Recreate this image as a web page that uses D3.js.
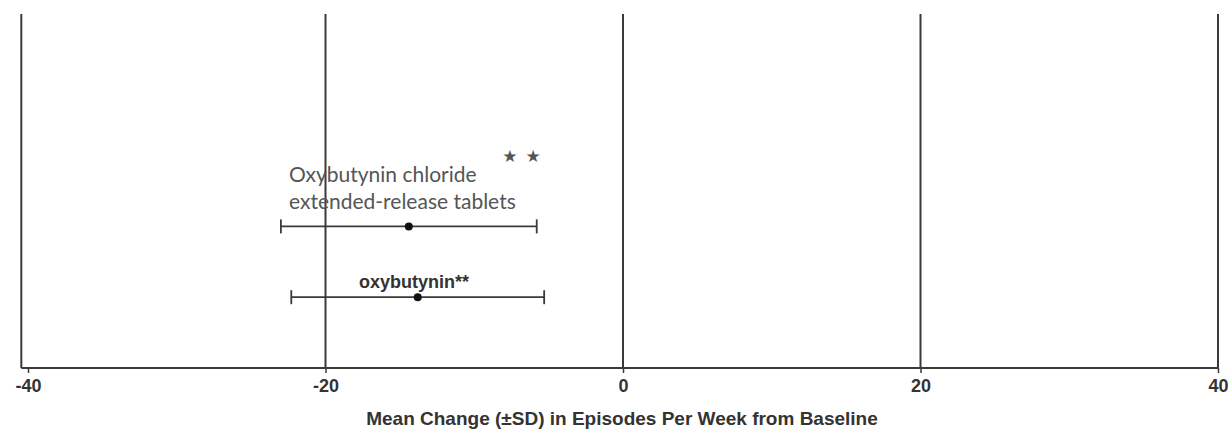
<!DOCTYPE html>
<html>
<head>
<meta charset="utf-8">
<script src="https://cdn.jsdelivr.net/npm/d3@7"></script>
<style>
  html, body { margin: 0; padding: 0; background: #fff; }
  svg { display: block; }
</style>
</head>
<body>
<div id="plot"></div>
<script>
// Mean change (±SD) in weekly episodes, two treatment arms

const treatments = ["ER", "IR"];
const meanChange = [-14.4, -13.8];
const sdChange = [8.6, 8.5];
const rowPos = [0.4, 0.2];          // vertical position of each arm (0 = axis, 1 = top)
const xTicks = [-40, -20, 0, 20, 40];
const gridValues = [-20, 0, 20, 40];
const starX = [-7.6, -6.05];        // the two stars above the ER arm

const width = 1228, height = 430;

const svg = d3.select("#plot")
  .append("svg")
  .attr("width", width)
  .attr("height", height);

const x = d3.scaleLinear().domain([-40, 40]).range([28, 1218]);
const y = d3.scaleLinear().domain([0, 1]).range([368, 14]);

const ink = "#3a3a3a";

// vertical reference lines
svg.selectAll(".grid")
  .data(gridValues)
  .enter()
  .append("line")
  .attr("class", "grid")
  .attr("x1", d => x(d)).attr("x2", d => x(d))
  .attr("y1", y(1)).attr("y2", y(0))
  .attr("stroke", ink)
  .attr("stroke-width", 2);

// left frame line
svg.append("line")
  .attr("x1", x(-40.45)).attr("x2", x(-40.45))
  .attr("y1", y(1)).attr("y2", y(0))
  .attr("stroke", ink)
  .attr("stroke-width", 2);

// x axis
const xAxis = d3.axisBottom(x)
  .tickValues(xTicks)
  .tickSize(5)
  .tickPadding(6)
  .tickFormat(d => String(d));

const gx = svg.append("g")
  .attr("transform", `translate(0,${y(0)})`)
  .call(xAxis);

gx.select(".domain").remove();
gx.append("line")
  .attr("x1", x(-40.45)).attr("x2", x(40))
  .attr("stroke", ink)
  .attr("stroke-width", 2);
gx.selectAll(".tick line").attr("stroke", ink).attr("stroke-width", 1.5);
gx.selectAll(".tick text")
  .attr("fill", "#333")
  .style("font-family", "Liberation Sans, Arial, sans-serif")
  .style("font-size", "18px")
  .style("font-weight", "bold");

// axis title
svg.append("text")
  .attr("x", 622)
  .attr("y", 425)
  .attr("text-anchor", "middle")
  .attr("fill", "#333")
  .style("font-family", "Liberation Sans, Arial, sans-serif")
  .style("font-size", "19px")
  .style("font-weight", "bold")
  .text("Mean Change (±SD) in Episodes Per Week from Baseline");

// error bars
const rows = treatments.map((t, i) => ({
  name: t, mean: meanChange[i], sd: sdChange[i], pos: rowPos[i]
}));

const bars = svg.selectAll(".bar")
  .data(rows)
  .enter()
  .append("g")
  .attr("class", "bar");

bars.append("line")
  .attr("x1", d => x(d.mean - d.sd)).attr("x2", d => x(d.mean + d.sd))
  .attr("y1", d => y(d.pos)).attr("y2", d => y(d.pos))
  .attr("stroke", ink).attr("stroke-width", 1.8);

bars.selectAll(".cap")
  .data(d => [d.mean - d.sd, d.mean + d.sd].map(v => ({ v, pos: d.pos })))
  .enter()
  .append("line")
  .attr("x1", d => x(d.v)).attr("x2", d => x(d.v))
  .attr("y1", d => y(d.pos) - 7).attr("y2", d => y(d.pos) + 7)
  .attr("stroke", ink).attr("stroke-width", 1.8);

bars.append("circle")
  .attr("cx", d => x(d.mean))
  .attr("cy", d => y(d.pos))
  .attr("r", 4)
  .attr("fill", "#111");

// labels
const erLabel = svg.append("text")
  .attr("fill", "#555")
  .style("font-family", "Lato, 'Open Sans', sans-serif")
  .style("font-size", "21px");
erLabel.append("tspan").attr("x", 289).attr("y", 182).text("Oxybutynin chloride");
erLabel.append("tspan").attr("x", 289).attr("y", 209).text("extended-release tablets");

svg.selectAll(".star")
  .data(starX)
  .enter()
  .append("text")
  .attr("class", "star")
  .attr("x", d => x(d))
  .attr("y", 156)
  .attr("dy", "0.35em")
  .attr("text-anchor", "middle")
  .attr("fill", "#555")
  .style("font-family", "DejaVu Sans, sans-serif")
  .style("font-size", "17px")
  .text("★");

svg.append("text")
  .attr("x", 359)
  .attr("y", 288)
  .attr("fill", "#333")
  .style("font-family", "Liberation Sans, Arial, sans-serif")
  .style("font-size", "18px")
  .style("font-weight", "bold")
  .text("oxybutynin**");
</script>
</body>
</html>
